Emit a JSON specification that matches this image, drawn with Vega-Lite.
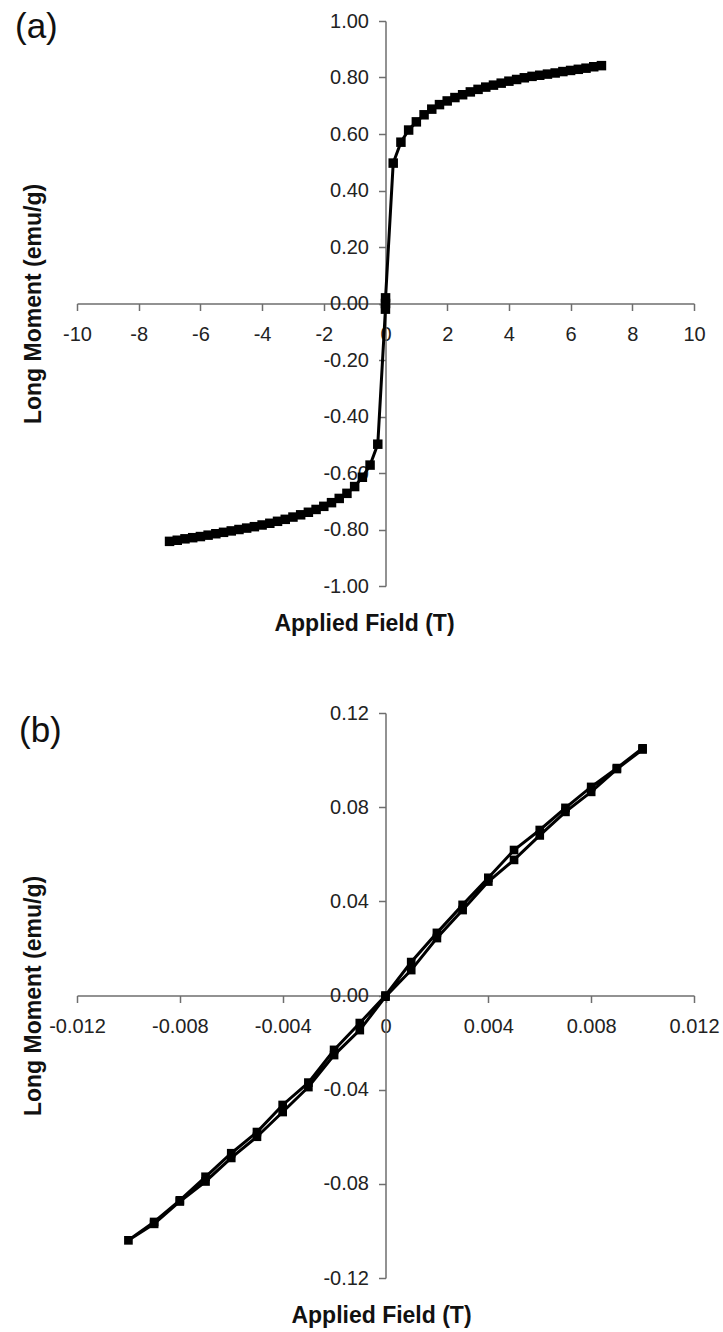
{
  "$schema": "https://vega.github.io/schema/vega-lite/v6.json",
  "padding": {"left": 15, "top": 10, "right": 0, "bottom": 0},
  "autosize": {"type": "pad"},
  "spacing": 67,
  "config": {
    "view": {"stroke": null},
    "font": "Liberation Sans",
    "axis": {
      "grid": false,
      "domainColor": "#6e6e6e",
      "domainWidth": 1.5,
      "tickColor": "#6e6e6e",
      "tickWidth": 1.5,
      "tickSize": 7,
      "labelFont": "Liberation Sans",
      "labelFontSize": 20,
      "labelColor": "#222222",
      "labelOverlap": false,
      "labelFlush": false,
      "labelBound": false,
      "titleFont": "Liberation Sans",
      "titleFontSize": 23,
      "titleFontWeight": "bold",
      "titleColor": "#111111"
    }
  },
  "datasets": {
    "loopA": [
      {"i": 1, "H": -7.0, "M": -0.842},
      {"i": 2, "H": -6.75, "M": -0.838},
      {"i": 3, "H": -6.5, "M": -0.833},
      {"i": 4, "H": -6.25, "M": -0.829},
      {"i": 5, "H": -6.0, "M": -0.825},
      {"i": 6, "H": -5.75, "M": -0.820},
      {"i": 7, "H": -5.5, "M": -0.815},
      {"i": 8, "H": -5.25, "M": -0.810},
      {"i": 9, "H": -5.0, "M": -0.805},
      {"i": 10, "H": -4.75, "M": -0.800},
      {"i": 11, "H": -4.5, "M": -0.795},
      {"i": 12, "H": -4.25, "M": -0.790},
      {"i": 13, "H": -4.0, "M": -0.784},
      {"i": 14, "H": -3.75, "M": -0.778},
      {"i": 15, "H": -3.5, "M": -0.771},
      {"i": 16, "H": -3.25, "M": -0.764},
      {"i": 17, "H": -3.0, "M": -0.756},
      {"i": 18, "H": -2.75, "M": -0.748},
      {"i": 19, "H": -2.5, "M": -0.739},
      {"i": 20, "H": -2.25, "M": -0.729},
      {"i": 21, "H": -2.0, "M": -0.718},
      {"i": 22, "H": -1.75, "M": -0.705},
      {"i": 23, "H": -1.5, "M": -0.690},
      {"i": 24, "H": -1.25, "M": -0.672},
      {"i": 25, "H": -1.0, "M": -0.648},
      {"i": 26, "H": -0.75, "M": -0.615},
      {"i": 27, "H": -0.5, "M": -0.572},
      {"i": 28, "H": -0.25, "M": -0.498},
      {"i": 29, "H": -0.002, "M": -0.02},
      {"i": 30, "H": 0.0, "M": 0.0},
      {"i": 31, "H": 0.002, "M": 0.02},
      {"i": 32, "H": 0.25, "M": 0.497},
      {"i": 33, "H": 0.5, "M": 0.571},
      {"i": 34, "H": 0.75, "M": 0.614},
      {"i": 35, "H": 1.0, "M": 0.643},
      {"i": 36, "H": 1.25, "M": 0.668},
      {"i": 37, "H": 1.5, "M": 0.688},
      {"i": 38, "H": 1.75, "M": 0.704},
      {"i": 39, "H": 2.0, "M": 0.717},
      {"i": 40, "H": 2.25, "M": 0.729},
      {"i": 41, "H": 2.5, "M": 0.739},
      {"i": 42, "H": 2.75, "M": 0.749},
      {"i": 43, "H": 3.0, "M": 0.758},
      {"i": 44, "H": 3.25, "M": 0.766},
      {"i": 45, "H": 3.5, "M": 0.773},
      {"i": 46, "H": 3.75, "M": 0.780},
      {"i": 47, "H": 4.0, "M": 0.787},
      {"i": 48, "H": 4.25, "M": 0.793},
      {"i": 49, "H": 4.5, "M": 0.799},
      {"i": 50, "H": 4.75, "M": 0.804},
      {"i": 51, "H": 5.0, "M": 0.808},
      {"i": 52, "H": 5.25, "M": 0.812},
      {"i": 53, "H": 5.5, "M": 0.816},
      {"i": 54, "H": 5.75, "M": 0.821},
      {"i": 55, "H": 6.0, "M": 0.825},
      {"i": 56, "H": 6.25, "M": 0.829},
      {"i": 57, "H": 6.5, "M": 0.833},
      {"i": 58, "H": 6.75, "M": 0.838},
      {"i": 59, "H": 7.0, "M": 0.842}
    ],
    "loopB": [
      {"i": 1, "H": 0.010, "M": 0.1050},
      {"i": 2, "H": 0.009, "M": 0.0966},
      {"i": 3, "H": 0.008, "M": 0.0886},
      {"i": 4, "H": 0.007, "M": 0.0797},
      {"i": 5, "H": 0.006, "M": 0.0703},
      {"i": 6, "H": 0.005, "M": 0.0618},
      {"i": 7, "H": 0.004, "M": 0.0500},
      {"i": 8, "H": 0.003, "M": 0.0385},
      {"i": 9, "H": 0.002, "M": 0.0266},
      {"i": 10, "H": 0.001, "M": 0.0142},
      {"i": 11, "H": 0.000, "M": 0.0000},
      {"i": 12, "H": -0.001, "M": -0.0117},
      {"i": 13, "H": -0.002, "M": -0.0231},
      {"i": 14, "H": -0.003, "M": -0.0370},
      {"i": 15, "H": -0.004, "M": -0.0465},
      {"i": 16, "H": -0.005, "M": -0.0580},
      {"i": 17, "H": -0.006, "M": -0.0670},
      {"i": 18, "H": -0.007, "M": -0.0770},
      {"i": 19, "H": -0.008, "M": -0.0870},
      {"i": 20, "H": -0.009, "M": -0.0962},
      {"i": 21, "H": -0.010, "M": -0.1040},
      {"i": 22, "H": -0.009, "M": -0.0970},
      {"i": 23, "H": -0.008, "M": -0.0875},
      {"i": 24, "H": -0.007, "M": -0.0790},
      {"i": 25, "H": -0.006, "M": -0.0690},
      {"i": 26, "H": -0.005, "M": -0.0600},
      {"i": 27, "H": -0.004, "M": -0.0495},
      {"i": 28, "H": -0.003, "M": -0.0389},
      {"i": 29, "H": -0.002, "M": -0.0253},
      {"i": 30, "H": -0.001, "M": -0.0147},
      {"i": 31, "H": 0.000, "M": -0.0005},
      {"i": 32, "H": 0.001, "M": 0.0108},
      {"i": 33, "H": 0.002, "M": 0.0244},
      {"i": 34, "H": 0.003, "M": 0.0363},
      {"i": 35, "H": 0.004, "M": 0.0484},
      {"i": 36, "H": 0.005, "M": 0.0576},
      {"i": 37, "H": 0.006, "M": 0.0680},
      {"i": 38, "H": 0.007, "M": 0.0780},
      {"i": 39, "H": 0.008, "M": 0.0865},
      {"i": 40, "H": 0.009, "M": 0.0962},
      {"i": 41, "H": 0.010, "M": 0.1045}
    ]
  },
  "vconcat": [
    {
      "width": 617,
      "height": 565,
      "title": {"text": "(a)", "anchor": "start", "frame": "group", "fontSize": 35, "fontWeight": "normal", "font": "Liberation Sans", "color": "#111111", "dx": -62, "dy": 43, "offset": -8, "baseline": "middle"},
      "data": {"name": "loopA"},
      "encoding": {
        "x": {"field": "H", "type": "quantitative", "scale": {"domain": [-10, 10], "nice": false},
          "axis": {"orient": "bottom", "offset": -282.5, "values": [-10, -8, -6, -4, -2, 0, 2, 4, 6, 8, 10], "labelPadding": 14,
            "labelExpr": "replace(format(datum.value, 'd'), '\u2212', '-')",
            "title": "Applied Field (T)", "titleX": 287, "titleY": 320, "titleBaseline": "middle"}},
        "y": {"field": "M", "type": "quantitative", "scale": {"domain": [-1, 1], "nice": false},
          "axis": {"orient": "left", "offset": -308.5, "values": [-1, -0.8, -0.6, -0.4, -0.2, 0, 0.2, 0.4, 0.6, 0.8, 1], "labelPadding": 10,
            "labelExpr": "replace(format(datum.value, '.2f'), '\u2212', '-')",
            "title": "Long Moment (emu/g)", "titleX": -352.5, "titleBaseline": "middle"}},
        "order": {"field": "i", "type": "quantitative"}
      },
      "layer": [
        {"mark": {"type": "line", "color": "#000000", "strokeWidth": 3}},
        {"mark": {"type": "point", "shape": "square", "filled": true, "color": "#000000", "opacity": 1, "size": 90}}
      ]
    },
    {
      "width": 617,
      "height": 565,
      "title": {"text": "(b)", "anchor": "start", "frame": "group", "fontSize": 35, "fontWeight": "normal", "font": "Liberation Sans", "color": "#111111", "dx": -58, "dy": 44, "offset": -19, "baseline": "middle"},
      "data": {"name": "loopB"},
      "encoding": {
        "x": {"field": "H", "type": "quantitative", "scale": {"domain": [-0.012, 0.012], "nice": false},
          "axis": {"orient": "bottom", "offset": -282.5, "values": [-0.012, -0.008, -0.004, 0, 0.004, 0.008, 0.012], "labelPadding": 14,
            "labelExpr": "datum.value == 0 ? '0' : replace(format(datum.value, '.3f'), '\u2212', '-')",
            "title": "Applied Field (T)", "titleX": 304, "titleY": 320, "titleBaseline": "middle"}},
        "y": {"field": "M", "type": "quantitative", "scale": {"domain": [-0.12, 0.12], "nice": false},
          "axis": {"orient": "left", "offset": -308.5, "values": [-0.12, -0.08, -0.04, 0, 0.04, 0.08, 0.12], "labelPadding": 10,
            "labelExpr": "replace(format(datum.value, '.2f'), '\u2212', '-')",
            "title": "Long Moment (emu/g)", "titleX": -352.5, "titleBaseline": "middle"}},
        "order": {"field": "i", "type": "quantitative"}
      },
      "layer": [
        {"mark": {"type": "line", "color": "#000000", "strokeWidth": 3}},
        {"mark": {"type": "point", "shape": "square", "filled": true, "color": "#000000", "opacity": 1, "size": 75}}
      ]
    }
  ]
}
